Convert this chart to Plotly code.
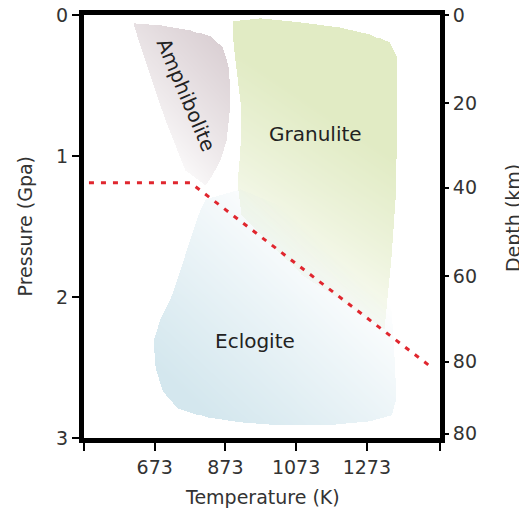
import numpy as np
import plotly.graph_objects as go

# ---------------- data ----------------
T_RANGE = [473, 1480]
P_RANGE = [3, 0]

temp_tickvals = [473, 673, 873, 1073, 1273, 1480]
temp_ticktext = ["", "673", "873", "1073", "1273", ""]
pressure_tickvals = [0, 1, 2, 3]
pressure_ticktext = ["0", "1", "2", "3"]
depth_tick_pressure = [0, 0.627, 1.225, 1.852, 2.458, 2.97]
depth_ticktext = ["0", "20", "40", "60", "80", "80"]

boundary_T = [487, 774, 1453]
boundary_P = [1.19, 1.19, 2.493]

amph_T = [614, 690, 774, 831, 865, 881, 887, 884, 876, 859, 836, 817, 760, 704, 656, 628]
amph_P = [0.056, 0.07, 0.106, 0.155, 0.232, 0.359, 0.535, 0.711, 0.887, 1.028, 1.134, 1.204, 1.099, 0.746, 0.394, 0.183]

gran_T = [893, 972, 1084, 1197, 1281, 1338, 1360, 1360, 1355, 1343, 1332, 1324, 1084, 918, 907, 915, 918, 907, 896]
gran_P = [0.042, 0.021, 0.049, 0.085, 0.134, 0.197, 0.303, 0.746, 1.31, 1.732, 2.014, 2.225, 1.83, 1.42, 1.19, 0.958, 0.676, 0.444, 0.218]

eclo_T = [817, 915, 1084, 1253, 1338, 1349, 1357, 1343, 1281, 1160, 1028, 915, 822, 738, 696, 676, 670, 690, 718, 746, 774, 797]
eclo_P = [1.31, 1.239, 1.415, 1.697, 1.944, 2.296, 2.718, 2.845, 2.887, 2.915, 2.915, 2.894, 2.859, 2.789, 2.669, 2.507, 2.317, 2.155, 2.014, 1.803, 1.592, 1.415]

region_names = ["Amphibolite", "Granulite", "Eclogite"]
region_label_T = [762, 1129, 958]
region_label_P = [0.567, 0.845, 2.31]
region_label_angle = [67, 0, 0]

# ---------------- styling helpers ----------------
SX = 0.355   # px per K (for isotropic gradient geometry)
SY = 142.0   # px per GPa


def inside(xx, yy, px, py):
    res = np.zeros(xx.shape, dtype=bool)
    n = len(px)
    j = n - 1
    for i in range(n):
        xi, yi, xj, yj = px[i], py[i], px[j], py[j]
        cond = ((yi > yy) != (yj > yy)) & (
            xx < (xj - xi) * (yy - yi) / (yj - yi + 1e-12) + xi)
        res ^= cond
        j = i
    return res


def gradient_region(Ts, Ps, rgb, a, b, power=1.0, top=1.0):
    Ts = np.asarray(Ts, float)
    Ps = np.asarray(Ps, float)
    xs = np.arange(Ts.min() - 3, Ts.max() + 3, 1 / SX)
    ys = np.arange(Ps.min() - 0.02, Ps.max() + 0.02, 1 / SY)
    XX, YY = np.meshgrid(xs, ys)
    mask = inside(XX * SX, YY * SY, Ts * SX, Ps * SY)
    ax, ay = a[0] * SX, a[1] * SY
    bx, by = b[0] * SX, b[1] * SY
    vx, vy = bx - ax, by - ay
    t = ((XX * SX - ax) * vx + (YY * SY - ay) * vy) / (vx * vx + vy * vy)
    inten = top * (1 - np.clip(t, 0, 1)) ** power
    z = np.where(mask, inten, np.nan)
    zl = [[None if np.isnan(v) else round(float(v), 3) for v in row] for row in z]
    r, g, bb = rgb
    return go.Heatmap(
        x=xs.round(2).tolist(), y=ys.round(4).tolist(), z=zl,
        zmin=0, zmax=1, showscale=False, hoverinfo="skip",
        colorscale=[[0, f"rgba({r},{g},{bb},0)"], [1, f"rgba({r},{g},{bb},1)"]],
    )


fig = go.Figure()

fig.add_trace(gradient_region(amph_T, amph_P, (217, 206, 210), (893, 0.32), (639, 0.89), 0.8, 0.95))
fig.add_trace(gradient_region(gran_T, gran_P, (225, 235, 196), (1225, 0.80), (972, 1.75), 0.7))
fig.add_trace(gradient_region(eclo_T, eclo_P, (212, 231, 238), (774, 2.72), (1169, 1.66), 0.9))

fig.add_trace(go.Scatter(
    x=boundary_T, y=boundary_P, mode="lines",
    line=dict(color="#e0262e", width=3, dash="5px,7px"),
    hoverinfo="skip", showlegend=False,
))

fig.add_trace(go.Scatter(x=[None], y=[None], yaxis="y2", showlegend=False, hoverinfo="skip"))

FONT = "DejaVu Sans"
for name, t, p, ang in zip(region_names, region_label_T, region_label_P, region_label_angle):
    fig.add_annotation(x=t, y=p, text=name, showarrow=False, textangle=ang,
                       font=dict(family=FONT, size=20, color="#222"),
                       xanchor="center", yanchor="middle")

fig.update_layout(
    width=519, height=508,
    margin=dict(l=76, r=87, t=7, b=78, autoexpand=False),
    plot_bgcolor="white", paper_bgcolor="white",
    showlegend=False,
    font=dict(family=FONT, size=19, color="#333"),
    xaxis=dict(range=T_RANGE, tickvals=temp_tickvals, ticktext=temp_ticktext,
               ticks="outside", ticklen=8, tickwidth=2, tickcolor="black",
               showline=True, linewidth=5, linecolor="black", mirror=True,
               showgrid=False, zeroline=False, fixedrange=True, automargin=False,
               ticklabeloverflow="allow"),
    yaxis=dict(range=P_RANGE, tickvals=pressure_tickvals, ticktext=pressure_ticktext,
               ticks="outside", ticklen=7, tickwidth=2, tickcolor="black",
               showline=True, linewidth=5, linecolor="black", mirror=True,
               showgrid=False, zeroline=False, fixedrange=True, automargin=False,
               ticklabeloverflow="allow"),
    yaxis2=dict(range=P_RANGE, overlaying="y", side="right",
                tickvals=depth_tick_pressure, ticktext=depth_ticktext,
                ticks="outside", ticklen=8, tickwidth=2, tickcolor="black",
                showline=False, showgrid=False, zeroline=False, fixedrange=True,
                automargin=False, ticklabeloverflow="allow"),
)

fig.add_annotation(text="Temperature (K)", xref="paper", yref="paper", x=0.5, y=-0.139,
                   showarrow=False, xanchor="center", yanchor="middle",
                   font=dict(family=FONT, size=19, color="#333"))
fig.add_annotation(text="Pressure (Gpa)", xref="paper", yref="paper", x=-0.166, y=0.5,
                   textangle=-90, showarrow=False, xanchor="center", yanchor="middle",
                   font=dict(family=FONT, size=19, color="#333"))
fig.add_annotation(text="Depth (km)", xref="paper", yref="paper", x=1.205, y=0.52,
                   textangle=-90, showarrow=False, xanchor="center", yanchor="middle",
                   font=dict(family=FONT, size=19, color="#333"))

fig.write_html("out.html")
